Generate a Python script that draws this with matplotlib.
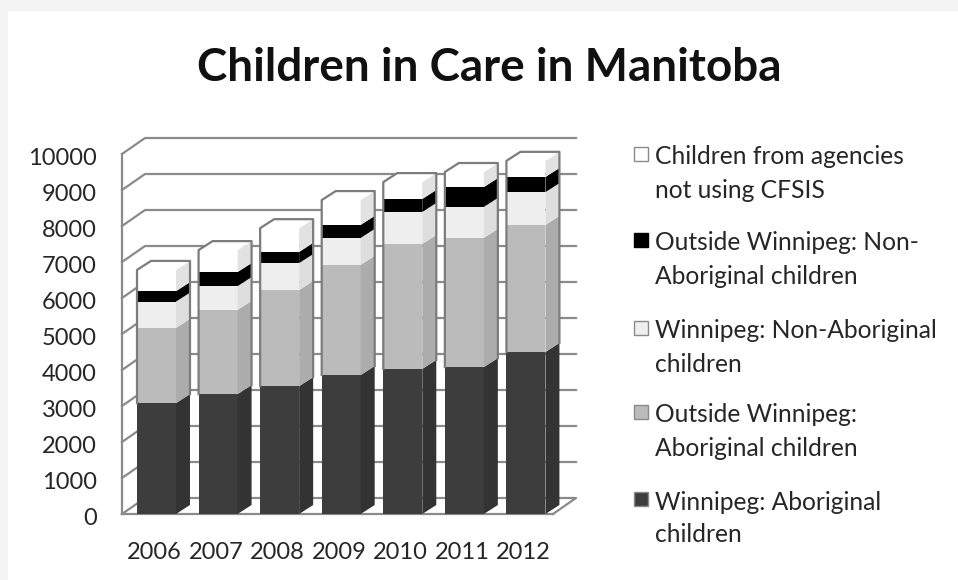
import matplotlib
matplotlib.use("Agg")
import matplotlib.pyplot as plt
from matplotlib.patches import Rectangle
from matplotlib.transforms import ScaledTranslation

plt.rcParams['font.family'] = ['Lato', 'DejaVu Sans']

years = ['2006', '2007', '2008', '2009', '2010', '2011', '2012']

# stacked bottom to top
wpg_aboriginal = [3080, 3330, 3550, 3860, 4030, 4080, 4500]
out_aboriginal = [2090, 2340, 2670, 3060, 3470, 3590, 3530]
wpg_non_aboriginal = [730, 660, 750, 750, 890, 860, 910]
out_non_aboriginal = [290, 390, 310, 360, 360, 550, 420]
no_cfsis = [590, 610, 660, 690, 470, 420, 450]

series = [wpg_aboriginal, out_aboriginal, wpg_non_aboriginal, out_non_aboriginal, no_cfsis]
front_colors = ['#3d3d3d', '#bbbbbb', '#eeeeee', '#000000', '#ffffff']
side_colors = ['#333333', '#acacac', '#dedede', '#000000', '#e2e2e2']

legend_labels = [
    'Children from agencies\nnot using CFSIS',
    'Outside Winnipeg: Non-\nAboriginal children',
    'Winnipeg: Non-Aboriginal\nchildren',
    'Outside Winnipeg:\nAboriginal children',
    'Winnipeg: Aboriginal\nchildren',
]
legend_colors = ['#ffffff', '#000000', '#eeeeee', '#bbbbbb', '#3d3d3d']
legend_tops = [155, 241, 329, 413, 500]

W, H = 958, 580
GRID = '#8a8a8a'
TEXT = '#262626'

fig = plt.figure(figsize=(W / 100, H / 100), dpi=100, facecolor='#f3f3f3')
fig.patches.append(Rectangle((8 / W, 0), 1, 1 - 11 / H, transform=fig.transFigure,
                             facecolor='white', edgecolor='none', zorder=-10))

# axes = front plane of the fake 3d box
ax = fig.add_axes([122 / W, 1 - 514 / H, 431 / W, 360 / H])
ax.set_xlim(0, len(years))
ax.set_ylim(0, 10000)
ax.patch.set_alpha(0)
for s in ['top', 'right']:
    ax.spines[s].set_visible(False)
for s in ['left', 'bottom']:
    ax.spines[s].set_color(GRID)
    ax.spines[s].set_linewidth(1.6)

# depth of box and bars, pixels converted to data units
px_x = len(years) / 431
px_y = 10000 / 360
box_dx, box_dy = 23 * px_x, 16 * px_y
bar_dx, bar_dy = 14 * px_x, 9 * px_y
bar_w = 39 * px_x
bar_off = 15 * px_x

for v in range(0, 11000, 1000):
    if v > 0:
        ax.plot([0, box_dx, len(years) + box_dx], [v, v + box_dy, v + box_dy],
                color=GRID, lw=1.6, clip_on=False, zorder=1)
    else:
        ax.plot([0, box_dx, len(years) + box_dx, len(years)], [0, box_dy, box_dy, 0],
                color=GRID, lw=1.6, clip_on=False, zorder=1)

for i in range(len(years)):
    left = i + bar_off
    right = left + bar_w
    bottom = 0
    for s, vals in enumerate(series):
        top = bottom + vals[i]
        ax.bar(left, vals[i], bar_w, bottom=bottom, align='edge', color=front_colors[s],
               clip_on=False, zorder=3)
        ax.fill([right, right + bar_dx, right + bar_dx, right],
                [bottom, bottom + bar_dy, top + bar_dy, top],
                color=side_colors[s], lw=0, clip_on=False, zorder=3)
        bottom = top
    # white lid and silhouette, the dark segment has no visible outline
    low = wpg_aboriginal[i]
    ax.fill([left, left + bar_dx, right + bar_dx, right],
            [bottom, bottom + bar_dy, bottom + bar_dy, bottom],
            color='white', lw=0, clip_on=False, zorder=3)
    ax.plot([left, left, left + bar_dx, right + bar_dx, right + bar_dx],
            [low, bottom, bottom + bar_dy, bottom + bar_dy, low + bar_dy],
            color='#7c7c7c', lw=1.6, clip_on=False, zorder=4, solid_joinstyle='round')

ax.set_xticks([i + 0.5 for i in range(len(years))])
ax.set_xticklabels(years)
ax.set_yticks(range(0, 11000, 1000))
ax.tick_params(length=0, labelsize=17, labelcolor=TEXT)
ax.tick_params(axis='x', pad=20)
ax.tick_params(axis='y', pad=18)

shift_y = ScaledTranslation(0, -2.5 / 100, fig.dpi_scale_trans)
for lab in ax.get_yticklabels():
    lab.set_transform(lab.get_transform() + shift_y)
shift_x = ScaledTranslation(1.5 / 100, 0, fig.dpi_scale_trans)
for lab in ax.get_xticklabels():
    lab.set_transform(lab.get_transform() + shift_x)

fig.text(489 / W, 1 - 68 / H, 'Children in Care in Manitoba', ha='center', va='center',
         fontsize=33, fontweight='bold', color='#111111')

for label, color, y in zip(legend_labels, legend_colors, legend_tops):
    fig.patches.append(Rectangle((634 / W, 1 - (y + 6) / H), 14 / W, 14 / H,
                                 transform=fig.transFigure, facecolor=color,
                                 edgecolor='#8a8a8a' if color != '#000000' else '#000000', lw=1))
    first, second = label.split('\n')
    fig.text(655 / W, 1 - (y + 2) / H, first, va='center', fontsize=17.7, color=TEXT)
    fig.text(655 / W, 1 - (y + 35) / H, second, va='center', fontsize=17.7, color=TEXT)

fig.savefig('out.png', dpi=100, facecolor=fig.get_facecolor())
